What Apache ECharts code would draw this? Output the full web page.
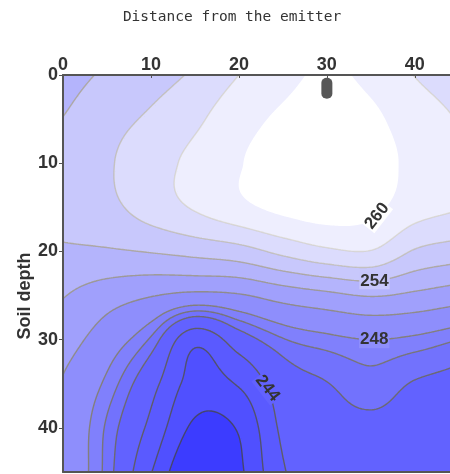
<!DOCTYPE html>
<html>
<head>
<meta charset="utf-8">
<script src="https://cdn.jsdelivr.net/npm/echarts@6/dist/echarts.min.js"></script>
<style>
  html, body { margin: 0; padding: 0; background: #ffffff; }
  #chart { width: 450px; height: 474px; }
</style>
</head>
<body>
<div id="chart"></div>
<script>
// Soil water readings around a drip emitter, on a 5 x 5 cm grid
const distances = [0, 5, 10, 15, 20, 25, 30, 35, 40, 45];   // distance from the emitter line (cm)
const depths    = [0, 5, 10, 15, 20, 25, 30, 35, 40, 45];   // soil depth (cm)
const potential = [
  [253.2, 254.3, 255.2, 256.3, 258.0, 259.4, 260.3, 259.5, 257.95, 257.0],
  [254.05, 255.3, 256.3, 257.6, 259.3, 260.3, 260.9, 260.4, 259.0, 257.9],
  [255.1, 255.8, 257.2, 258.5, 259.9, 260.6, 261.1, 260.8, 259.5, 258.5],
  [254.9, 255.5, 256.9, 258.2, 259.5, 260.5, 261.0, 260.5, 258.9, 258.1],
  [253.7, 253.8, 254.1, 254.6, 255.2, 256.5, 257.6, 257.9, 255.8, 255.0],
  [252.1, 250.9, 250.1, 249.5, 249.8, 250.8, 251.5, 252.1, 251.6, 250.9],
  [250.9, 249.0, 246.8, 242.6, 245.1, 246.9, 247.6, 248.0, 247.7, 247.0],
  [249.85, 247.7, 244.7, 241.2, 242.2, 245.1, 245.95, 246.6, 245.9, 245.6],
  [249.75, 246.8, 243.5, 239.6, 240.2, 244.4, 245.5, 245.7, 245.5, 245.3],
  [249.7, 246.6, 242.1, 237.8, 239.6, 243.8, 245.3, 245.4, 245.3, 245.2]
];
const levels = [240, 242, 244, 246, 247, 248, 250, 252, 254, 256, 258, 260];
const labelledLevels = [260, 254, 248, 244];
const emitter = [[30, 1.5]];
const xTicks = [0, 10, 20, 30, 40];
const yTicks = [0, 10, 20, 30, 40];

// fill colour of each band: below the first level, then above each level
const bandColors = [
  '#3c3cff', '#5050ff', '#5a5aff', '#6262ff', '#7272fd', '#8080fc',
  '#8e8efc', '#a0a0fc', '#b4b4fc', '#c8c8fc', '#dcdcfd', '#eeeefe', '#ffffff'
];
// isoline stroke for each level
const lineColors = [
  'rgba(70,70,60,0.75)', 'rgba(80,80,60,0.75)', 'rgba(95,92,55,0.75)', 'rgba(110,106,60,0.72)',
  'rgba(120,115,65,0.7)', 'rgba(130,124,70,0.7)', 'rgba(140,134,78,0.65)', 'rgba(150,143,85,0.6)',
  'rgba(160,152,95,0.55)', 'rgba(180,172,120,0.45)', 'rgba(195,188,140,0.35)', 'rgba(255,255,255,0)'
];
// where each labelled isoline carries its value (searched from this point), and text angle
const labelHints = {
  260: { at: [35.4, 15.6], angle: 52 },
  254: { at: [35.4, 23.0], angle: 0 },
  248: { at: [35.4, 30.0], angle: 0 },
  244: { at: [22.7, 35.7], angle: -52 }
};

// ---- smooth surface through the grid (Catmull-Rom in both directions) ----
const nc = distances.length, nr = depths.length;
const dx = distances[1] - distances[0], dy = depths[1] - depths[0];
function node(j, i) {
  if (j < 0) return 2 * node(0, i) - node(1, i);
  if (j > nr - 1) return 2 * node(nr - 1, i) - node(nr - 2, i);
  if (i < 0) return 2 * node(j, 0) - node(j, 1);
  if (i > nc - 1) return 2 * node(j, nc - 1) - node(j, nc - 2);
  return potential[j][i];
}
function cr(p0, p1, p2, p3, t) {
  return 0.5 * (2 * p1 + (p2 - p0) * t + (2 * p0 - 5 * p1 + 4 * p2 - p3) * t * t + (3 * p1 - p0 - 3 * p2 + p3) * t * t * t);
}
function surface(x, y) {
  const gx = (x - distances[0]) / dx, gy = (y - depths[0]) / dy;
  const i = Math.min(Math.max(Math.floor(gx), 0), nc - 2);
  const j = Math.min(Math.max(Math.floor(gy), 0), nr - 2);
  const tx = gx - i, ty = gy - j;
  const r = [];
  for (let m = -1; m <= 2; m++) {
    r.push(cr(node(j + m, i - 1), node(j + m, i), node(j + m, i + 1), node(j + m, i + 2), tx));
  }
  return cr(r[0], r[1], r[2], r[3], ty);
}

// ---- isobands and isolines on a fine triangulated mesh ----
const RES = 0.25;
const x0 = distances[0], x1 = distances[nc - 1], y0 = depths[0], y1 = depths[nr - 1];
const NX = Math.round((x1 - x0) / RES) + 1, NY = Math.round((y1 - y0) / RES) + 1;
const XS = [], YS = [];
for (let i = 0; i < NX; i++) XS.push(x0 + i * RES);
for (let j = 0; j < NY; j++) YS.push(y0 + j * RES);
const V = YS.map(y => XS.map(x => surface(x, y)));

function clipAbove(poly, t) {
  const out = [];
  for (let k = 0; k < poly.length; k++) {
    const P = poly[k], Q = poly[(k + 1) % poly.length];
    const pin = P[2] >= t, qin = Q[2] >= t;
    if (pin) out.push(P);
    if (pin !== qin) {
      const f = (t - P[2]) / (Q[2] - P[2]);
      out.push([P[0] + f * (Q[0] - P[0]), P[1] + f * (Q[1] - P[1]), t]);
    }
  }
  return out;
}
function crossing(tri, t) {
  const pts = [];
  for (let k = 0; k < 3; k++) {
    const P = tri[k], Q = tri[(k + 1) % 3];
    if ((P[2] >= t) !== (Q[2] >= t)) {
      const f = (t - P[2]) / (Q[2] - P[2]);
      pts.push([P[0] + f * (Q[0] - P[0]), P[1] + f * (Q[1] - P[1])]);
    }
  }
  return pts.length === 2 ? pts : null;
}
function buildLevel(t) {
  const polys = [], segs = [];
  for (let j = 0; j < NY - 1; j++) {
    let run = -1;
    for (let i = 0; i < NX - 1; i++) {
      const a = [XS[i], YS[j], V[j][i]], b = [XS[i + 1], YS[j], V[j][i + 1]];
      const c = [XS[i + 1], YS[j + 1], V[j + 1][i + 1]], d = [XS[i], YS[j + 1], V[j + 1][i]];
      if (a[2] >= t && b[2] >= t && c[2] >= t && d[2] >= t) {
        if (run < 0) run = i;
        continue;
      }
      if (run >= 0) {
        polys.push([[XS[run], YS[j]], [XS[i], YS[j]], [XS[i], YS[j + 1]], [XS[run], YS[j + 1]]]);
        run = -1;
      }
      [[a, b, c], [a, c, d]].forEach(tri => {
        const p = clipAbove(tri, t);
        if (p.length >= 3) polys.push(p.map(q => [q[0], q[1]]));
        const s = crossing(tri, t);
        if (s) segs.push(s);
      });
    }
    if (run >= 0) {
      polys.push([[XS[run], YS[j]], [XS[NX - 1], YS[j]], [XS[NX - 1], YS[j + 1]], [XS[run], YS[j + 1]]]);
    }
  }
  return { polys, segs };
}
const levelShapes = levels.map(buildLevel);
const fullDomain = [[[x0, y0], [x1, y0], [x1, y1], [x0, y1]]];

function toPath(api, polys) {
  let s = '';
  for (const p of polys) {
    for (let k = 0; k < p.length; k++) {
      const q = api.coord(p[k]);
      s += (k ? 'L' : 'M') + q[0].toFixed(2) + ' ' + q[1].toFixed(2);
    }
    s += 'Z';
  }
  return s;
}
function toSegPath(api, segs) {
  let s = '';
  for (const g of segs) {
    const a = api.coord(g[0]), b = api.coord(g[1]);
    s += 'M' + a[0].toFixed(2) + ' ' + a[1].toFixed(2) + 'L' + b[0].toFixed(2) + ' ' + b[1].toFixed(2);
  }
  return s;
}
function colorAbove(level) {
  return bandColors[levels.indexOf(level) + 1];
}
// label anchor: the point of the isoline nearest to its hint
function labelAnchor(level) {
  const hint = labelHints[level].at;
  const segs = levelShapes[levels.indexOf(level)].segs;
  let best = hint, bd = Infinity;
  for (const g of segs) {
    const m = [(g[0][0] + g[1][0]) / 2, (g[0][1] + g[1][1]) / 2];
    const dd = (m[0] - hint[0]) ** 2 + (m[1] - hint[1]) ** 2;
    if (dd < bd) { bd = dd; best = m; }
  }
  return best;
}

const digitFont = '"Liberation Sans", Arial, sans-serif';
const chart = echarts.init(document.getElementById('chart'), null, { renderer: 'canvas' });
chart.setOption({
  animation: false,
  backgroundColor: '#ffffff',
  grid: { left: 63, top: 75, right: 0, bottom: 2, containLabel: false },
  xAxis: [{
    type: 'value', position: 'top', min: 0, max: 44, interval: 10, z: 10,
    axisLine: { show: true, lineStyle: { color: '#555', width: 2 } },
    axisTick: { show: true, inside: true, length: 3, lineStyle: { color: '#555', width: 1 } },
    axisLabel: {
      margin: 1, color: '#333', fontSize: 18, fontWeight: 'bold', fontFamily: digitFont,
      showMaxLabel: false,
      formatter: v => (xTicks.indexOf(v) >= 0 ? String(v) : '')
    },
    splitLine: { show: false }
  }, {
    type: 'value', position: 'bottom', min: 0, max: 44, z: 10,
    axisLine: { show: true, lineStyle: { color: '#555', width: 2 } },
    axisTick: { show: false }, axisLabel: { show: false }, splitLine: { show: false }
  }],
  yAxis: {
    type: 'value', inverse: true, min: 0, max: 45, interval: 10, z: 10,
    axisLine: { show: true, lineStyle: { color: '#555', width: 2 } },
    axisTick: { show: true, length: 4, lineStyle: { color: '#555', width: 1 } },
    axisLabel: {
      margin: 5, color: '#333', fontSize: 18, fontWeight: 'bold', fontFamily: digitFont,
      showMaxLabel: false,
      formatter: v => (yTicks.indexOf(v) >= 0 ? String(v) : '')
    },
    splitLine: { show: false }
  },
  graphic: [
    {
      type: 'text', x: 232, y: 17, z: 20,
      style: {
        text: 'Distance from the emitter', fill: '#333',
        font: '14.5px "DejaVu Sans Mono", monospace', align: 'center', verticalAlign: 'middle'
      }
    },
    {
      type: 'text', x: 25, y: 296, rotation: Math.PI / 2, z: 20,
      style: {
        text: 'Soil depth', fill: '#333',
        font: 'bold 18px "Liberation Sans", Arial, sans-serif', align: 'center', verticalAlign: 'middle'
      }
    }
  ],
  series: [
    {
      // filled bands: the whole field first, then each level's upper region on top
      type: 'custom', name: 'bands', coordinateSystem: 'cartesian2d', xAxisIndex: 0, yAxisIndex: 0,
      silent: true, z: 2,
      data: [[-1, 0, 0]].concat(levels.map((lv, k) => [k, 0, lv])),
      encode: { x: 1, y: 2 },
      renderItem: (params, api) => {
        const k = params.dataIndex - 1;
        const polys = k < 0 ? fullDomain : levelShapes[k].polys;
        return {
          type: 'path',
          shape: { pathData: toPath(api, polys) },
          style: { fill: bandColors[k + 1], stroke: null }
        };
      }
    },
    {
      type: 'custom', name: 'isolines', coordinateSystem: 'cartesian2d', xAxisIndex: 0, yAxisIndex: 0,
      silent: true, z: 3,
      data: levels.map((lv, k) => [k, 0, lv]),
      encode: { x: 1, y: 2 },
      renderItem: (params, api) => ({
        type: 'path',
        shape: { pathData: toSegPath(api, levelShapes[params.dataIndex].segs) },
        style: { fill: null, stroke: lineColors[params.dataIndex], lineWidth: 1.4, lineCap: 'round' }
      })
    },
    {
      type: 'custom', name: 'isoline values', coordinateSystem: 'cartesian2d', xAxisIndex: 0, yAxisIndex: 0,
      silent: true, z: 4,
      data: labelledLevels.map(lv => labelAnchor(lv).concat([lv])),
      renderItem: (params, api) => {
        const lv = labelledLevels[params.dataIndex];
        const p = api.coord([api.value(0), api.value(1)]);
        return {
          type: 'text', x: p[0], y: p[1],
          rotation: labelHints[lv].angle * Math.PI / 180,
          style: {
            text: String(lv), fill: '#333', font: 'bold 17px ' + digitFont,
            align: 'center', verticalAlign: 'middle',
            backgroundColor: colorAbove(lv), padding: [0, 1]
          }
        };
      }
    },
    {
      type: 'scatter', name: 'emitter', xAxisIndex: 0, yAxisIndex: 0, z: 5, silent: true,
      symbol: 'path://M0,5A5,5 0 0 1 10,5L10,16A5,5 0 0 1 0,16Z',
      symbolSize: [11, 21],
      itemStyle: { color: '#2d2d2d' },
      data: emitter
    }
  ]
});
</script>
</body>
</html>
